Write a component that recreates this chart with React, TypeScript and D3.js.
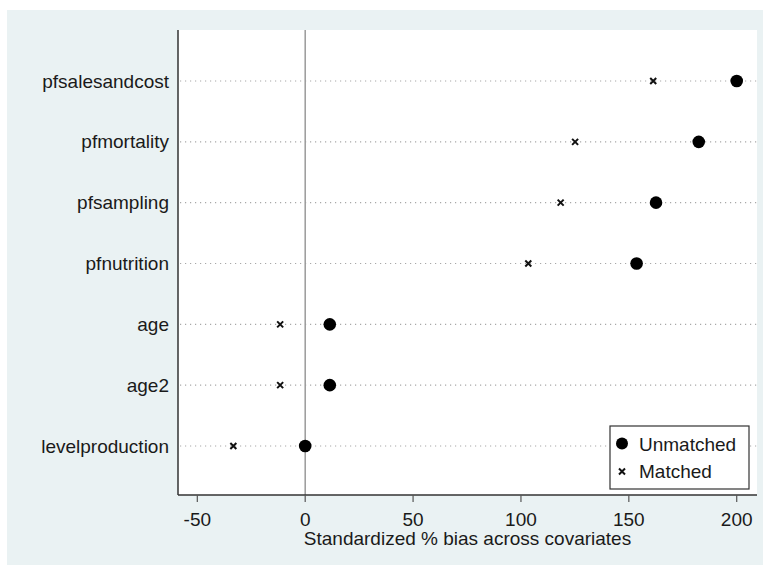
import React from "react";
import * as d3 from "d3";

const categories = [
  "pfsalesandcost",
  "pfmortality",
  "pfsampling",
  "pfnutrition",
  "age",
  "age2",
  "levelproduction",
];
const unmatched = [200.0, 182.4, 162.6, 153.6, 11.4, 11.4, 0.0];
const matched = [161.3, 125.1, 118.4, 103.4, -11.6, -11.6, -33.3];
const xTicks = [-50, 0, 50, 100, 150, 200];
const seriesNames = ["Unmatched", "Matched"];
const xTitle = "Standardized % bias across covariates";

const W = 764;
const H = 565;
const plot = { left: 178, right: 757, top: 30, bottom: 495 };
const FONT = "'Liberation Sans', Arial, sans-serif";
const TEXT = "#1a1a1a";

export default function App() {
  const x = d3.scaleLinear().domain([-58.95, 209.4]).range([plot.left, plot.right]);
  const y = d3.scalePoint<string>().domain(categories).range([81, 446]);

  const cross = (cx: number, cy: number, key: string) => {
    const s = 3;
    return (
      <path
        key={key}
        d={`M${cx - s},${cy - s}L${cx + s},${cy + s}M${cx - s},${cy + s}L${cx + s},${cy - s}`}
        stroke="#111"
        strokeWidth={2}
        fill="none"
      />
    );
  };

  return (
    <svg
      width={W}
      height={H}
      style={{ position: "absolute", left: 0, top: 0, background: "#fff" }}
      fontFamily={FONT}
    >
      <rect x={7} y={10} width={756} height={555} fill="#eaf2f3" />
      <rect
        x={plot.left}
        y={plot.top}
        width={plot.right - plot.left}
        height={plot.bottom - plot.top}
        fill="#ffffff"
      />
      {/* dotted row lines */}
      {categories.map((c) => (
        <line
          key={"g" + c}
          x1={plot.left + 2}
          x2={plot.right}
          y1={y(c)}
          y2={y(c)}
          stroke="#a8a8a8"
          strokeWidth={1.2}
          strokeDasharray="1.2 3.8"
        />
      ))}
      {/* zero line */}
      <line
        x1={x(0)}
        x2={x(0)}
        y1={plot.top}
        y2={plot.bottom}
        stroke="#9a9a9a"
        strokeWidth={1.5}
      />
      {/* axes */}
      <line x1={plot.left} x2={plot.left} y1={plot.top} y2={plot.bottom} stroke="#333" strokeWidth={1.5} />
      <line x1={plot.left} x2={plot.right} y1={plot.bottom} y2={plot.bottom} stroke="#333" strokeWidth={1.5} />
      {xTicks.map((t) => (
        <g key={"t" + t}>
          <line x1={x(t)} x2={x(t)} y1={plot.bottom} y2={plot.bottom + 7} stroke="#555" strokeWidth={1.2} />
          <text x={x(t)} y={526} textAnchor="middle" fontSize={19} fill={TEXT}>
            {t}
          </text>
        </g>
      ))}
      <text x={(plot.left + plot.right) / 2} y={544.5} textAnchor="middle" fontSize={19} fill={TEXT}>
        {xTitle}
      </text>
      {categories.map((c) => (
        <text key={"l" + c} x={169} y={y(c)} dy="0.35em" textAnchor="end" fontSize={19} fill={TEXT}>
          {c}
        </text>
      ))}
      {/* points */}
      {categories.map((c, i) => cross(x(matched[i]), y(c) as number, "m" + c))}
      {categories.map((c, i) => (
        <circle key={"u" + c} cx={x(unmatched[i])} cy={y(c)} r={6.3} fill="#000" />
      ))}
      {/* legend */}
      <rect x={610} y={426} width={139} height={63} fill="#fff" stroke="#333" strokeWidth={1.2} />
      <circle cx={622} cy={443.5} r={6} fill="#000" />
      <text x={639} y={450.7} fontSize={19} fill={TEXT}>
        {seriesNames[0]}
      </text>
      {cross(622, 471.5, "legm")}
      <text x={639} y={478.3} fontSize={19} fill={TEXT}>
        {seriesNames[1]}
      </text>
    </svg>
  );
}
